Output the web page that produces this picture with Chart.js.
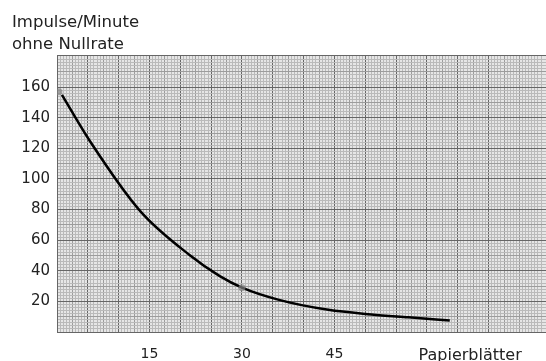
<!DOCTYPE html>
<html>
<head>
<meta charset="utf-8">
<script src="https://cdn.jsdelivr.net/npm/chart.js@4/dist/chart.umd.min.js"></script>
<style>
  html, body { margin: 0; padding: 0; background: #fff; overflow: hidden; }
</style>
</head>
<body>
<canvas id="myChart" width="546" height="361"></canvas>
<script>
var sheets = [0.8, 5.3, 13.5, 21.6, 26.4, 30, 36, 44, 51, 57, 63.7];
var rates = [155, 125, 79, 50, 36.5, 29, 21, 14.5, 11.5, 9.6, 7.5];
var markSheets = [0.3, 30];
var markRates = [157, 29];
var xLabels = [15, 30, 45];
var xTitle = 'Papierblätter';
var xTitleAt = 67;
var yLabels = [20, 40, 60, 80, 100, 120, 140, 160];
var title = ['Impulse/Minute', 'ohne Nullrate'];

var xMax = 79.3, yMax = 181;

function gridAxis(pos, step, color, z) {
    return {
        type: 'linear', position: pos, min: 0, max: pos == 'left' ? yMax : xMax, z: z,
        ticks: { display: false, stepSize: step, maxTicksLimit: 1000 },
        grid: { color: color, lineWidth: 1, drawTicks: false },
        border: { display: false },
        afterFit: function (s) { if (pos == 'left') s.width = 0; else s.height = 0; }
    };
}

function renderChart() {
    var ctx = document.getElementById("myChart").getContext('2d');
    var pts = sheets.map(function (s, i) { return { x: s, y: rates[i] }; });
    var marks = markSheets.map(function (s, i) { return { x: s, y: markRates[i] }; });
    new Chart(ctx, {
        type: 'scatter',
        data: {
            datasets: [{
                data: marks,
                pointRadius: 3.5,
                pointBackgroundColor: 'rgba(130,130,130,0.7)',
                pointBorderWidth: 0,
                showLine: false
            }, {
                data: pts,
                showLine: true,
                cubicInterpolationMode: 'monotone',
                borderColor: '#000',
                borderWidth: 2.5,
                pointRadius: 0
            }]
        },
        options: {
            responsive: false,
            animation: false,
            layout: { autoPadding: false, padding: { left: 12, top: 0, right: 0, bottom: 0 } },
            plugins: {
                legend: { display: false },
                tooltip: { enabled: false },
                title: {
                    display: true, text: title, align: 'start', color: '#222',
                    font: { family: 'DejaVu Sans', size: 16.5, weight: 'normal', lineHeight: 1.32 },
                    padding: { top: 12, bottom: -0.5 }
                }
            },
            scales: {
                xMinor: gridAxis('bottom', 0.5, '#bababa', -4),
                xMid: gridAxis('bottom', 2.5, '#9c9c9c', -3),
                xMajor: gridAxis('bottom', 5, '#666', -2),
                yMinor: gridAxis('left', 2, '#bababa', -4),
                yMid: gridAxis('left', 10, '#9c9c9c', -3),
                x: {
                    type: 'linear', position: 'bottom', min: 0, max: xMax,
                    grid: { display: false },
                    border: { display: false },
                    afterBuildTicks: function (s) {
                        s.ticks = xLabels.concat([xTitleAt]).map(function (v) { return { value: v }; });
                    },
                    afterFit: function (s) { s.height = 29; },
                    ticks: {
                        padding: 6, color: '#222', maxRotation: 0, autoSkip: false,
                        font: function (c) {
                            return { family: 'DejaVu Sans', size: c.tick && c.tick.value == xTitleAt ? 16 : 14 };
                        },
                        callback: function (v) { return v == xTitleAt ? xTitle : String(v); }
                    }
                },
                y: {
                    type: 'linear', position: 'left', min: 0, max: yMax, z: -1,
                    grid: { color: '#666', drawTicks: false },
                    border: { color: '#666' },
                    afterFit: function (s) { s.width = 45; },
                    ticks: {
                        stepSize: 20, padding: 7, color: '#222',
                        font: { family: 'DejaVu Sans', size: 15 },
                        callback: function (v) { return yLabels.indexOf(v) >= 0 ? String(v) : ''; }
                    }
                }
            }
        },
        plugins: [{
            id: 'paper',
            beforeDraw: function (chart) {
                var a = chart.chartArea, c = chart.ctx;
                c.save();
                c.fillStyle = '#e6e6e6';
                c.fillRect(a.left, a.top, a.right - a.left, a.bottom - a.top);
                c.restore();
            }
        }]
    });
}

renderChart();
</script>
</body>
</html>
